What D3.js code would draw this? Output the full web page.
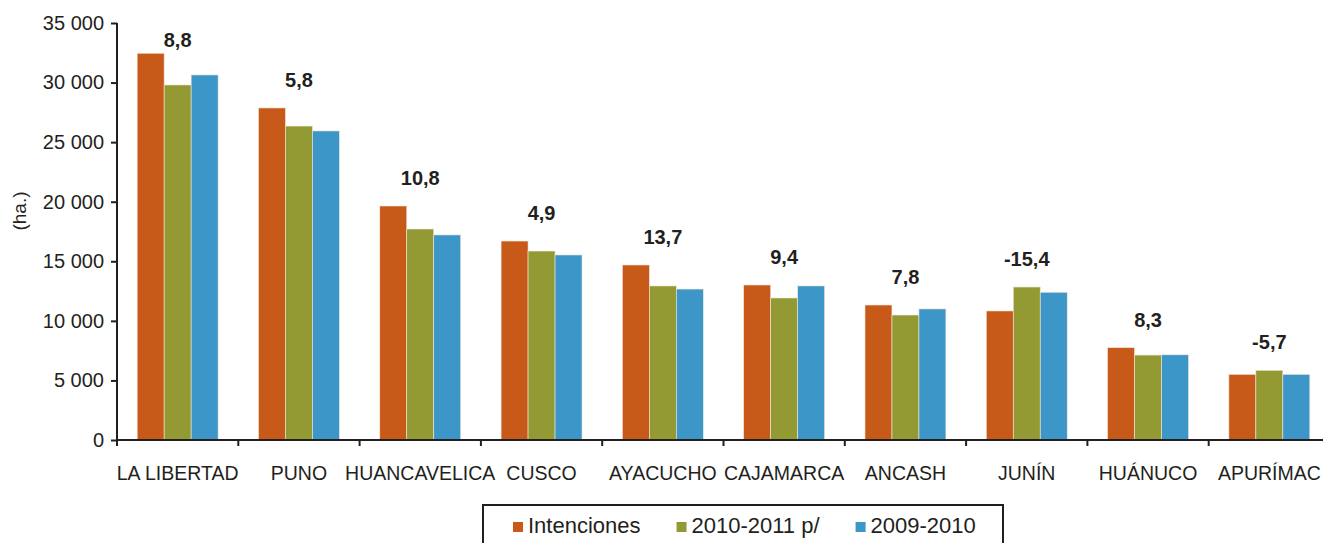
<!DOCTYPE html>
<html lang="es">
<head>
<meta charset="UTF-8">
<title>Superficie sembrada por región</title>
<script src="https://d3js.org/d3.v7.min.js"></script>
<style>
  body { margin: 0; background: #fff; font-family: 'Liberation Sans', Arial, sans-serif; }
  svg { display: block; }
  .axis text { fill: #231f20; }
  .axis path, .axis line { stroke: #231f20; stroke-width: 2; }
  .lbl { font-size: 20px; font-weight: bold; fill: #231f20; text-anchor: middle; }
</style>
</head>
<body>
<svg id="chart" width="1323" height="543"></svg>
<script>
// regions (x categories)
const regions = ["LA LIBERTAD", "PUNO", "HUANCAVELICA", "CUSCO", "AYACUCHO",
                 "CAJAMARCA", "ANCASH", "JUNÍN", "HUÁNUCO", "APURÍMAC"];
// series values (ha.)
const intenciones = [32460, 27870, 19640, 16700, 14690, 13010, 11330, 10830, 7750, 5510];
const campania1011 = [29800, 26350, 17710, 15860, 12930, 11920, 10490, 12840, 7130, 5850];
const campania0910 = [30640, 25940, 17210, 15530, 12670, 12930, 11000, 12400, 7150, 5510];
// variation labels (%)
const variacion = ["8,8", "5,8", "10,8", "4,9", "13,7", "9,4", "7,8", "-15,4", "8,3", "-5,7"];
const seriesNames = ["Intenciones", "2010-2011 p/", "2009-2010"];
const colors = ["#c85a19", "#939a33", "#3c97c8"];
const yTicks = [0, 5000, 10000, 15000, 20000, 25000, 30000, 35000];

const svg = d3.select("#chart");
const mLeft = 117, mTop = 23, mBottom = 440, bandW = 121.3;

const x = d3.scaleBand()
    .domain(regions)
    .range([mLeft, mLeft + bandW * regions.length])
    .paddingInner(0).paddingOuter(0);
const y = d3.scaleLinear().domain([0, 35000]).range([mBottom, mTop]);
const fmt = v => d3.format(",")(v).replace(/,/g, " ");

const series = [intenciones, campania1011, campania0910];
const x1 = d3.scaleBand().domain(d3.range(3))
    .range([0, x.bandwidth()]).paddingOuter(0.748).paddingInner(0);

// bars
series.forEach((vals, s) => {
  svg.append("g").selectAll("rect")
    .data(vals)
    .join("rect")
      .attr("x", (d, i) => x(regions[i]) + x1(s))
      .attr("width", x1.bandwidth())
      .attr("y", d => y(d))
      .attr("height", d => mBottom - y(d))
      .attr("fill", colors[s])
      .attr("stroke", "#f3e6da")
      .attr("stroke-width", 0.6);
});

// y axis
const yAxis = svg.append("g").attr("class", "axis")
    .attr("transform", `translate(${mLeft},0)`)
    .call(d3.axisLeft(y).tickValues(yTicks).tickFormat(fmt).tickSize(6).tickPadding(7));
yAxis.select(".domain").attr("d", `M0,${mTop}V${mBottom}`);
yAxis.selectAll("text").attr("font-size", 20).attr("font-family", "Liberation Sans, Arial, sans-serif");

// x axis
const xAxis = svg.append("g").attr("class", "axis")
    .attr("transform", `translate(0,${mBottom})`);
xAxis.append("line").attr("x1", mLeft).attr("x2", 1323).attr("y1", 0).attr("y2", 0);
xAxis.selectAll(".tk").data(regions).join("line").attr("class", "tk")
    .attr("x1", d => x(d)).attr("x2", d => x(d)).attr("y1", 0).attr("y2", 6);
xAxis.selectAll(".cat").data(regions).join("text").attr("class", "cat")
    .attr("x", d => x(d) + x.bandwidth() / 2)
    .attr("y", 40)
    .attr("text-anchor", "middle")
    .attr("font-size", 19.5)
    .text(d => d);

// y title
svg.append("text")
    .attr("transform", "translate(26,211) rotate(-90)")
    .attr("text-anchor", "middle")
    .attr("font-size", 19).attr("fill", "#231f20")
    .text("(ha.)");

// variation labels above each group
svg.append("g").selectAll("text")
  .data(variacion)
  .join("text")
    .attr("class", "lbl")
    .attr("x", (d, i) => x(regions[i]) + x.bandwidth() / 2)
    .attr("y", (d, i) => {
      const m = Math.max(intenciones[i], campania1011[i], campania0910[i]);
      return Math.max(y(m) - 21, 47);
    })
    .text(d => d);

// legend
const lg = svg.append("g");
lg.append("rect").attr("x", 483).attr("y", 505).attr("width", 520).attr("height", 50)
    .attr("fill", "none").attr("stroke", "#231f20").attr("stroke-width", 2);
let lx = 513;
seriesNames.forEach((n, i) => {
  lg.append("rect").attr("x", lx).attr("y", 522).attr("width", 10).attr("height", 10)
      .attr("fill", colors[i]);
  const t = lg.append("text").attr("x", lx + 15).attr("y", 533)
      .attr("font-size", 22).attr("fill", "#231f20").text(n);
  lx += 15 + t.node().getComputedTextLength() + 36;
});
</script>
</body>
</html>
